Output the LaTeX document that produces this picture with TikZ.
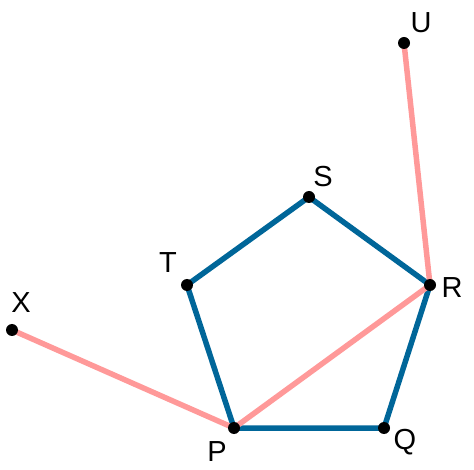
\documentclass[tikz,border=0pt]{standalone}
\usepackage{fontspec}
\setmainfont{Liberation Sans}
\definecolor{edgeblue}{RGB}{0,102,153}
\definecolor{edgepink}{RGB}{255,153,153}
\begin{document}
\begin{tikzpicture}[x=1pt,y=-1pt]
\tikzstyle{pt}=[circle,fill=black,inner sep=0pt,minimum size=12pt];
\tikzstyle{lbl}=[font=\fontsize{29}{32}\selectfont,inner sep=0pt];
\tikzstyle{side}=[edgeblue,line width=5.5pt,line join=round];
\tikzstyle{extra}=[edgepink,line width=5.5pt];
\useasboundingbox (0,0) rectangle (474,470);
\coordinate (P) at (234,428);
\coordinate (Q) at (384,428);
\coordinate (R) at (430,285);
\coordinate (S) at (309,197);
\coordinate (T) at (187,285);
\coordinate (U) at (404,43);
\coordinate (X) at (12,330);
\draw[side] (P) -- (Q) -- (R) -- (S) -- (T) -- cycle;
\draw[extra] (X) -- (P) -- (R) -- (U);
\foreach \v in {P,Q,R,S,T,U,X}
	\node[pt] at (\v) {};
\node[lbl] (lP) at (217,452) {P};
\node[lbl] (lQ) at (405,442) {Q};
\node[lbl] (lR) at (452,288) {R};
\node[lbl] (lS) at (323,177) {S};
\node[lbl] (lT) at (168,263) {T};
\node[lbl] (lU) at (421,23) {U};
\node[lbl] (lX) at (21,303) {X};
\end{tikzpicture}
\end{document}
